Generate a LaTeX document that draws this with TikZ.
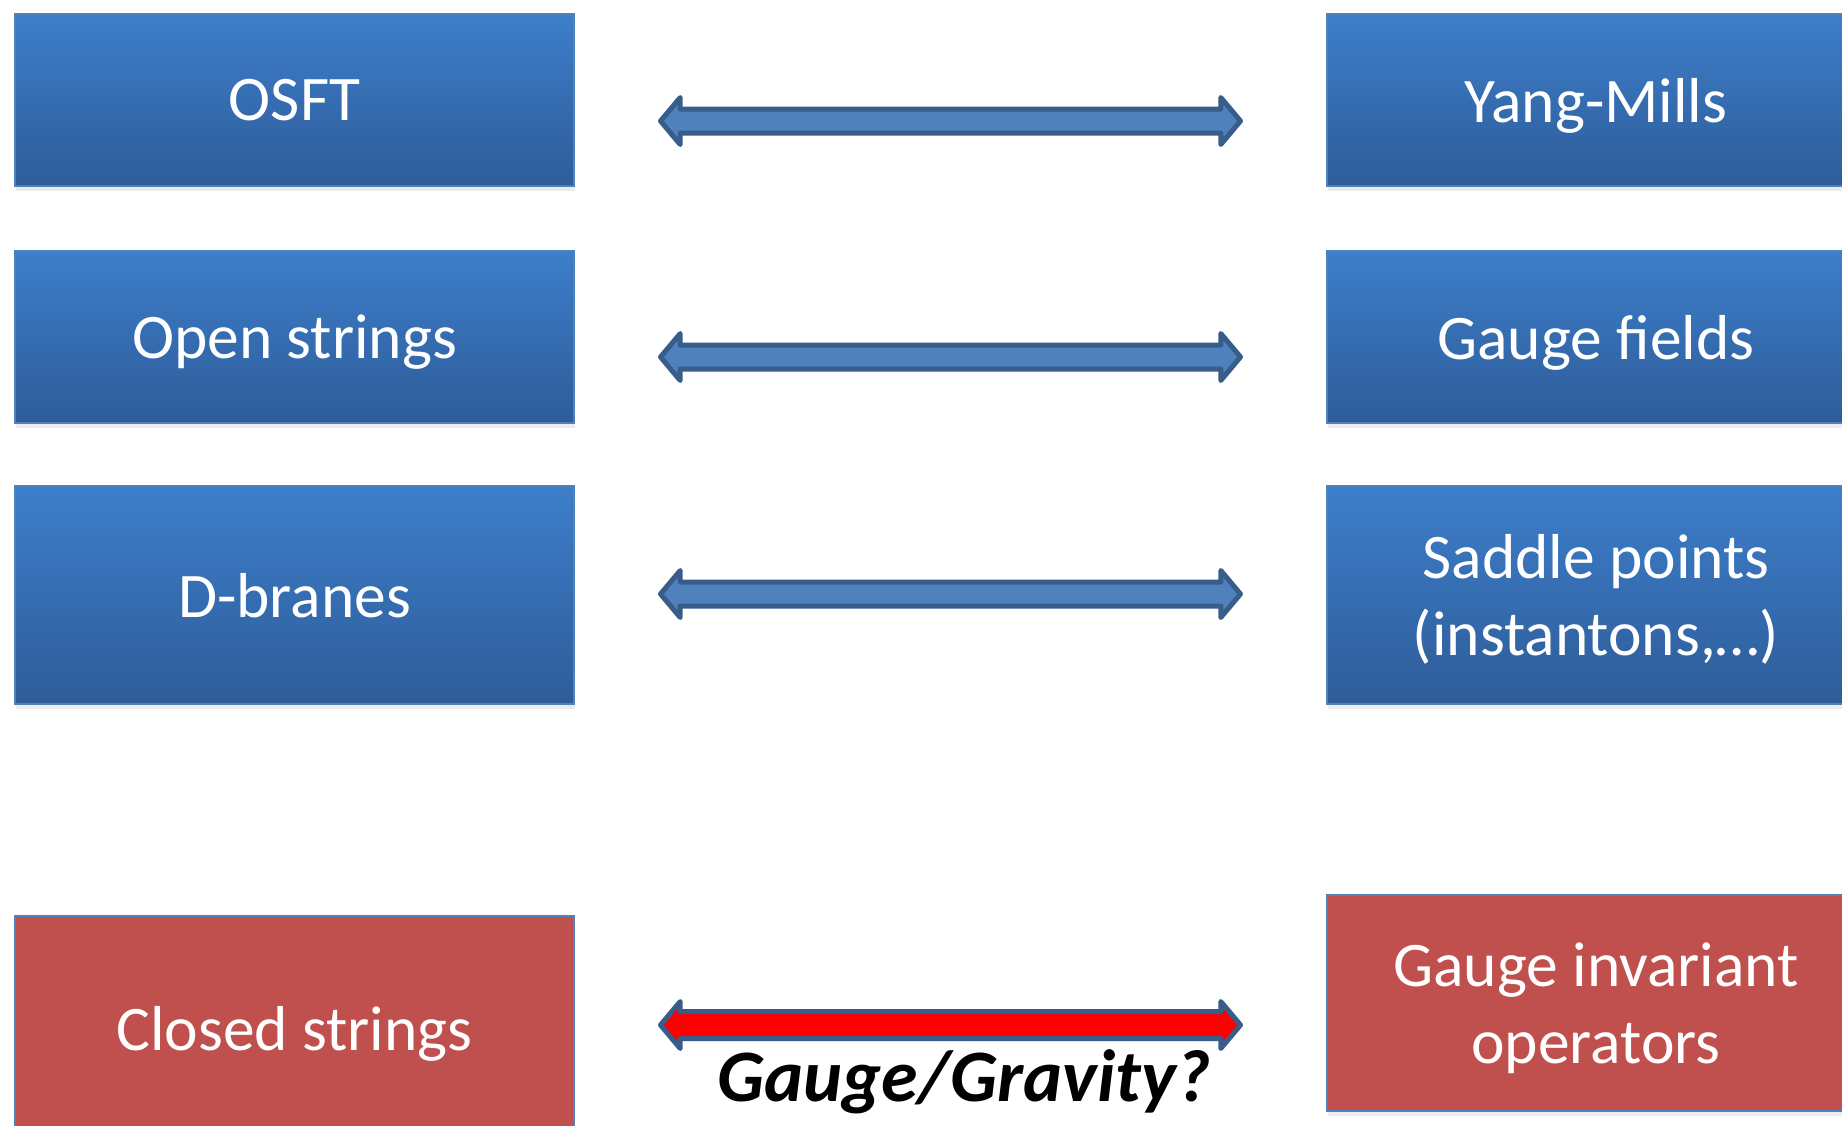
\documentclass[tikz,border=0pt]{standalone}
\usepackage{fontspec}
\setmainfont{Carlito}
\usetikzlibrary{shapes.arrows,shadows}
\definecolor{btop}{RGB}{61,126,202}
\definecolor{bbot}{RGB}{46,92,153}
\definecolor{bedge}{RGB}{79,129,189}
\definecolor{rfill}{RGB}{192,80,77}
\definecolor{afill}{RGB}{79,129,189}
\definecolor{aedge}{RGB}{56,93,138}
\tikzset{
  box/.style={rectangle, inner sep=0pt, text=white, align=center,
    font=\fontsize{63.5}{77}\selectfont, text depth=0pt, line width=2.5pt, draw=bedge,
    drop shadow={opacity=0.15, shadow xshift=1pt, shadow yshift=-5pt}},
  bluebox/.style={box, top color=btop, bottom color=bbot},
  redbox/.style={box, fill=rfill},
  leftbox/.style={minimum width=559pt},
  rightbox/.style={minimum width=538pt},
  dblarrow/.style={double arrow, inner xsep=0pt, inner ysep=9.5pt, minimum height=580pt,
    double arrow head extend=11.5pt,
    double arrow tip angle=100, line width=5pt, draw=aedge,
    line join=round, fill=afill},
}
\begin{document}
\begin{tikzpicture}[x=1pt,y=-1pt]
\path[use as bounding box, clip] (0,0) rectangle (1842,1125);
\fill[white] (0,0) rectangle (1842,1125);
% left column
\node[bluebox, leftbox, minimum height=172pt] (osft) at (294.5,100) {OSFT};
\node[bluebox, leftbox, minimum height=172pt] (open) at (294.5,337) {Open strings};
\node[bluebox, leftbox, minimum height=218pt] (dbr) at (294.5,595) {D-branes};
\node[redbox, leftbox, minimum height=224pt] (closed) at (294.5,1028) {Closed strings};
% right column
\node[bluebox, rightbox, minimum height=172pt] (ym) at (1596,100) {Yang-Mills};
\node[bluebox, rightbox, minimum height=172pt] (gf) at (1596,337) {Gauge fields};
\node[bluebox, rightbox, minimum height=218pt] (sp) at (1596,595) {Saddle points\\(instantons,\dots)};
\node[redbox, rightbox, minimum height=216pt] (gi) at (1596,1003) {Gauge invariant\\operators};
% arrows
\node[dblarrow] (a1) at (950.5,121) {};
\node[dblarrow] (a2) at (950.5,357) {};
\node[dblarrow] (a3) at (950.5,594) {};
\node[dblarrow, fill=red, inner ysep=11pt, double arrow head extend=10pt] (a4) at (950.5,1025) {};
\node[anchor=base, font=\fontsize{74}{88}\selectfont\bfseries\itshape] (lbl) at (964,1101) {Gauge/Gravity?};
\end{tikzpicture}
\end{document}
